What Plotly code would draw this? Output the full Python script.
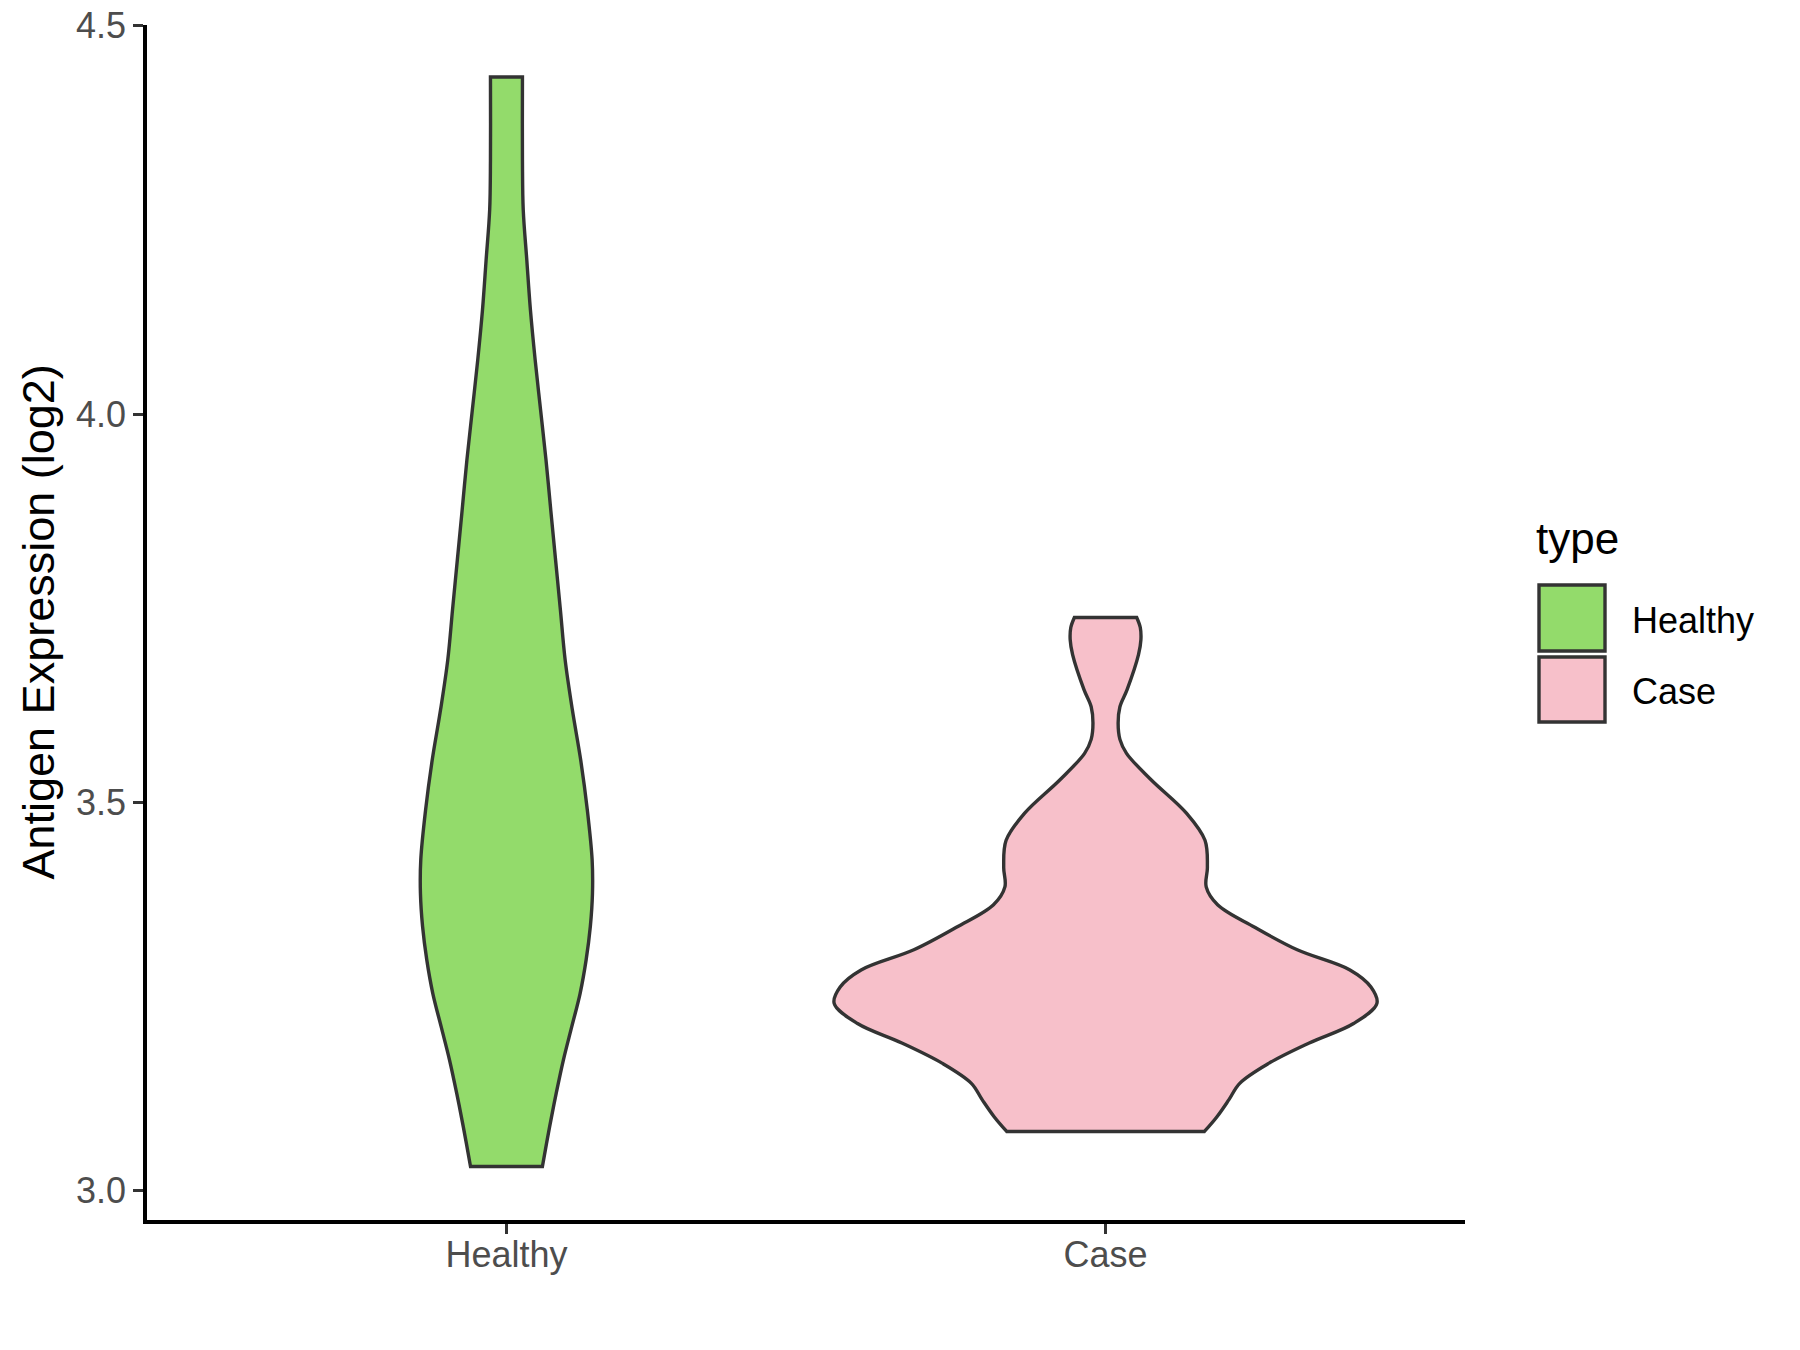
import plotly.graph_objects as go

# violin outlines: expression value and half width (x units)
categories = ["Healthy", "Case"]
fill_colors = ["#93DB6B", "#F7C0CA"]

healthy_y = [3.031, 3.082, 3.125, 3.168, 3.211, 3.254, 3.297, 3.340, 3.383, 3.426,
             3.490, 3.554, 3.619, 3.683, 3.748, 3.812, 3.876, 3.941, 4.005, 4.069,
             4.134, 4.198, 4.263, 4.327, 4.434]
healthy_half = [0.060, 0.072, 0.083, 0.095, 0.109, 0.123, 0.133, 0.140, 0.1436, 0.143,
                0.135, 0.124, 0.110, 0.098, 0.090, 0.082, 0.074, 0.066, 0.057, 0.048,
                0.040, 0.034, 0.028, 0.0267, 0.0267]

case_y = [3.076, 3.095, 3.117, 3.138, 3.164, 3.190, 3.215, 3.241, 3.262, 3.284,
          3.310, 3.339, 3.368, 3.391, 3.416, 3.451, 3.486, 3.529, 3.563, 3.581,
          3.602, 3.623, 3.645, 3.690, 3.709, 3.725, 3.738]
case_half = [0.165, 0.186, 0.206, 0.224, 0.273, 0.340, 0.414, 0.453, 0.443, 0.408,
             0.320, 0.249, 0.187, 0.168, 0.170, 0.166, 0.135, 0.076, 0.035, 0.024,
             0.021, 0.024, 0.036, 0.055, 0.059, 0.058, 0.052]

y_ticks = [3.0, 3.5, 4.0, 4.5]
y_tick_text = ["3.0", "3.5", "4.0", "4.5"]

W, H = 1800, 1350
OFF = 8  # default page margin of the html body
L, R, T, B = 147, 1465, 25, 1220  # plot area in page pixels
FONT = "Liberation Sans, Arial, sans-serif"


def px(x):
    return (x - L) / (R - L)


def py(y):
    return (B - y) / (B - T)


def outline(center, ys, halves):
    # left side bottom->top, right side top->bottom; corners doubled so the
    # spline keeps the flat ends square
    left = [(center - h, y) for y, h in zip(ys, halves)]
    right = [(center + h, y) for y, h in zip(ys, halves)][::-1]
    pts = [left[0]] + left + [left[-1], right[0]] + right + [right[-1], left[0]]
    return [p[0] for p in pts], [p[1] for p in pts]


fig = go.Figure()
for i, (ys, hs) in enumerate([(healthy_y, healthy_half), (case_y, case_half)]):
    xs, yy = outline(i + 1, ys, hs)
    fig.add_trace(
        go.Scatter(
            x=xs, y=yy, mode="lines", fill="toself",
            fillcolor=fill_colors[i],
            line=dict(color="#333333", width=3.4, shape="spline", smoothing=1.0),
            name=categories[i], showlegend=False, hoverinfo="skip",
        )
    )

fig.update_layout(
    width=W, height=H,
    margin=dict(l=L - OFF, r=W - R + OFF, t=T - OFF, b=H - B + OFF),
    plot_bgcolor="white", paper_bgcolor="white",
    font=dict(family=FONT, color="#4D4D4D", size=36),
    showlegend=False,
)
axis_style = dict(
    showgrid=False, zeroline=False, showline=True, linecolor="black", linewidth=3.6,
    ticks="outside", ticklen=10, tickwidth=3, tickcolor="#333333",
    tickfont=dict(size=36, color="#4D4D4D"), ticklabeloverflow="allow",
    automargin=False,
)
fig.update_xaxes(range=[0.4, 2.6], tickvals=[1, 2], ticktext=categories,
                 ticklabelstandoff=-10, **axis_style)
fig.update_yaxes(
    range=[3.0 - (B - 1190.5) / 776.5, 3.0 + (1190.5 - T) / 776.5],
    tickvals=y_ticks, ticktext=y_tick_text, **axis_style,
)

# y axis title
fig.add_annotation(
    x=px(38), y=py((T + B) / 2), xref="paper", yref="paper",
    text="Antigen Expression (log2)", textangle=-90, showarrow=False,
    font=dict(size=45, color="black", family=FONT),
    xanchor="center", yanchor="middle",
)

# legend drawn by hand
fig.add_annotation(
    x=px(1534), y=py(538), xref="paper", yref="paper", text="type",
    showarrow=False, xanchor="left", yanchor="middle",
    font=dict(size=44, color="black", family=FONT),
)
keys = [(585, 651), (657, 722)]
label_y = [620, 691]
for i, (k0, k1) in enumerate(keys):
    fig.add_shape(
        type="rect", xref="paper", yref="paper",
        x0=px(1539), x1=px(1605), y0=py(k1), y1=py(k0),
        fillcolor=fill_colors[i], line=dict(color="#333333", width=3.4),
    )
    fig.add_annotation(
        x=px(1630), y=py(label_y[i]), xref="paper", yref="paper",
        text=categories[i], showarrow=False, xanchor="left", yanchor="middle",
        font=dict(size=36, color="black", family=FONT),
    )

fig.write_html("out.html")
